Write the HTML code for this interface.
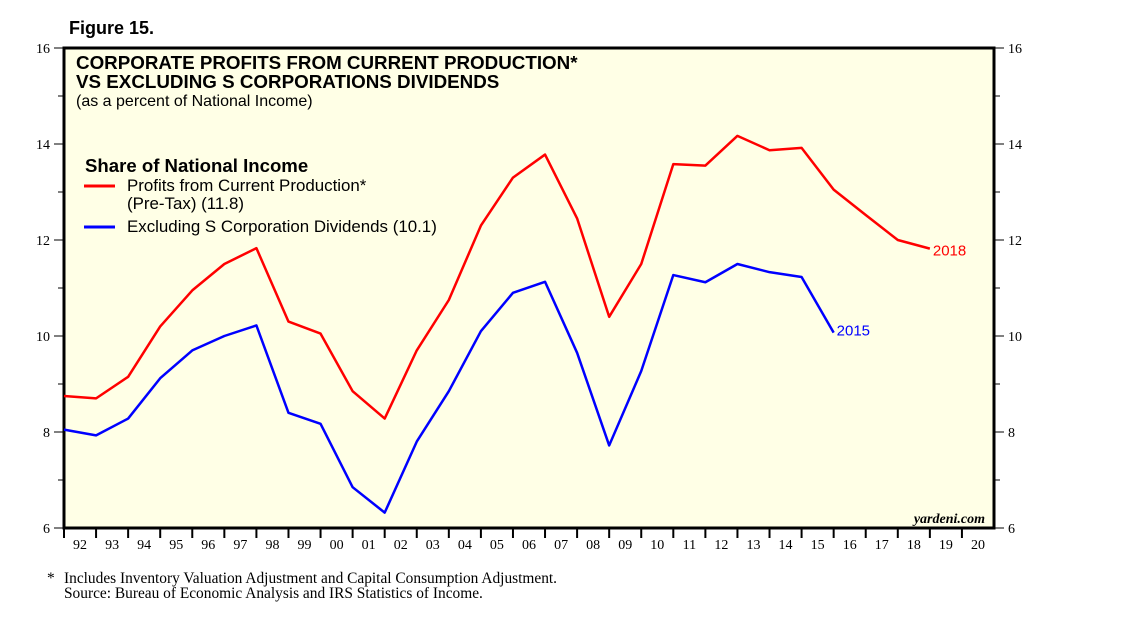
<!DOCTYPE html>
<html><head><meta charset="utf-8"><style>
body{margin:0;background:#fff;width:1138px;height:621px;overflow:hidden;font-family:"Liberation Sans",sans-serif}
</style></head><body>
<svg id="chart" width="1138" height="621" xmlns="http://www.w3.org/2000/svg">
<text x="69" y="34" font-size="18" font-weight="bold">Figure 15.</text>
<rect x="64" y="48" width="930" height="480" fill="#ffffe6" stroke="#000" stroke-width="3"/>
<text x="76" y="69" font-size="18.8" font-weight="bold">CORPORATE PROFITS FROM CURRENT PRODUCTION*</text>
<text x="76" y="88" font-size="18.8" font-weight="bold">VS EXCLUDING S CORPORATIONS DIVIDENDS</text>
<text x="76" y="106" font-size="16">(as a percent of National Income)</text>
<text x="85" y="172" font-size="18.6" font-weight="bold">Share of National Income</text>
<line x1="84" y1="186" x2="115" y2="186" stroke="#f00" stroke-width="3"/>
<text x="127" y="191" font-size="16.9">Profits from Current Production*</text>
<text x="127" y="209" font-size="16.9">(Pre-Tax) (11.8)</text>
<line x1="84" y1="227" x2="115" y2="227" stroke="#00f" stroke-width="3"/>
<text x="127" y="232" font-size="16.9">Excluding S Corporation Dividends (10.1)</text>
<text x="985" y="523" font-size="14" font-style="italic" font-weight="bold" font-family="Liberation Serif,serif" text-anchor="end">yardeni.com</text>
<text x="47" y="583" font-size="15.4" font-family="Liberation Serif,serif">*</text>
<text x="64" y="583" font-size="15.4" font-family="Liberation Serif,serif">Includes Inventory Valuation Adjustment and Capital Consumption Adjustment.</text>
<text x="64" y="598" font-size="15.4" font-family="Liberation Serif,serif">Source: Bureau of Economic Analysis and IRS Statistics of Income.</text>
<g id="axes"></g><g id="series"></g>
</svg>
<script>
const years=[1992,1993,1994,1995,1996,1997,1998,1999,2000,2001,2002,2003,2004,2005,2006,2007,2008,2009,2010,2011,2012,2013,2014,2015,2016,2017,2018,2019];
const profits=[8.75,8.7,9.15,10.2,10.95,11.5,11.83,10.3,10.05,8.85,8.28,9.7,10.75,12.3,13.3,13.78,12.45,10.4,11.5,13.58,13.55,14.17,13.87,13.92,13.05,12.52,12.0,11.82];
const excluding=[8.05,7.93,8.28,9.12,9.7,10.0,10.22,8.4,8.17,6.85,6.32,7.8,8.85,10.1,10.9,11.13,9.65,7.72,9.27,11.27,11.12,11.5,11.33,11.23,10.07];
const yTicks=[6,8,10,12,14,16];
const xLabels=["92","93","94","95","96","97","98","99","00","01","02","03","04","05","06","07","08","09","10","11","12","13","14","15","16","17","18","19","20"];
const L=64,R=994,T=48,B=528,x0=1992,x1=2021,ymin=6,ymax=16;
const X=v=>L+(v-x0)/(x1-x0)*(R-L);
const Y=v=>B-(v-ymin)/(ymax-ymin)*(B-T);
const NS="http://www.w3.org/2000/svg";
function mk(tag,attrs,parent){const e=document.createElementNS(NS,tag);for(const k in attrs)e.setAttribute(k,attrs[k]);parent.appendChild(e);return e;}
const ax=document.getElementById('axes');
for(let v=ymin;v<=ymax;v++){
  const major=yTicks.includes(v);
  const t1=mk('line',{x1:L-(major?10:6),x2:L,y1:Y(v),y2:Y(v),stroke:'#000'},ax);
  
  
  const t2=mk('line',{x1:R,x2:R+(major?10:6),y1:Y(v),y2:Y(v),stroke:'#000'},ax);
  
  
}
yTicks.forEach(v=>{
  const a=mk('text',{x:L-14,y:Y(v)+5,'font-size':14,'text-anchor':'end','font-family':'Liberation Serif,serif'},ax);a.textContent=v;
  
  
  const b=mk('text',{x:R+14,y:Y(v)+5,'font-size':14,'font-family':'Liberation Serif,serif'},ax);b.textContent=v;
  
  
});
xLabels.forEach((s,i)=>{
  const tk=mk('line',{x1:X(x0+i),x2:X(x0+i),y1:B,y2:B+10,stroke:'#000','stroke-width':2},ax);
  
  
  const t=mk('text',{x:X(x0+i+0.5),y:B+21,'font-size':14,'text-anchor':'middle','font-family':'Liberation Serif,serif'},ax);t.textContent=s;
  
  
});
const sg=document.getElementById('series');
function line(data,color,name){
  const p=mk('polyline',{points:data.map((v,i)=>X(years[i])+','+Y(v)).join(' '),fill:'none',stroke:color,'stroke-width':2.5,'stroke-linejoin':'round'},sg);
  
  
}
line(profits,'#f00','profits-line');
line(excluding,'#00f','excluding-line');
const l1=mk('text',{x:X(years[profits.length-1])+3,y:Y(profits[profits.length-1])+7,'font-size':15,fill:'#f00'},sg);l1.textContent='2018';


const l2=mk('text',{x:X(years[excluding.length-1])+3,y:Y(excluding[excluding.length-1])+3,'font-size':15,fill:'#00f'},sg);l2.textContent='2015';


</script>
</body></html>
